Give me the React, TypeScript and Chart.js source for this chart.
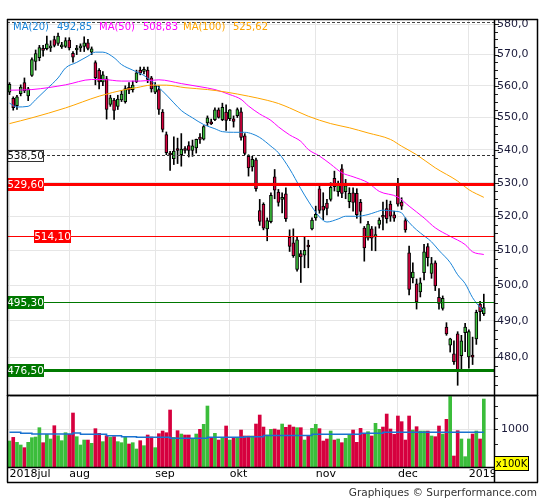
import React, { useEffect, useRef } from 'react';
import { Chart, registerables } from 'chart.js';

Chart.register(...registerables);
Chart.defaults.font.family = "'DejaVu Sans', sans-serif";

// ---------- data (trading days 10 Jul 2018 .. 8 Jan 2019) ----------
const monthIdx = [0, 16, 39, 59, 82, 104, 123];
const monthLabels = ['2018jul', 'aug', 'sep', 'okt', 'nov', 'dec', '2019jan'];

const opens = [
  558.0, 556.0, 553.7, 557.5, 561.0, 556.8, 563.3, 567.8, 569.0, 571.8,
  571.9, 572.2, 574.9, 573.6, 572.5, 572.7, 574.7, 570.4, 571.5, 572.2,
  572.7, 573.8, 570.8, 567.4, 564.9, 561.2, 562.2, 554.1, 555.5, 553.5,
  555.5, 555.0, 559.5, 558.8, 561.3, 565.0, 564.6, 565.0, 562.5, 558.0,
  558.8, 551.7, 544.7, 539.0, 537.3, 540.3, 538.5, 540.2, 541.3, 539.8,
  540.6, 543.9, 543.3, 548.3, 548.6, 549.3, 552.4, 549.3, 551.7, 549.6,
  549.6, 550.6, 551.8, 544.3, 538.0, 534.8, 536.9, 521.7, 523.5, 516.3,
  518.4, 531.8, 527.2, 525.0, 526.7, 513.8, 512.2, 504.5, 509.1, 508.6,
  511.4, 516.3, 519.5, 528.2, 523.0, 523.9, 525.0, 531.3, 527.3, 534.2,
  527.3, 524.3, 527.0, 526.8, 524.1, 516.5, 513.6, 516.3, 514.0, 517.6,
  520.0, 522.3, 523.6, 520.4, 529.3, 524.2, 518.7, 509.3, 502.1, 500.4,
  498.1, 503.6, 511.1, 503.4, 506.4, 496.6, 493.5, 488.3, 483.3, 480.9,
  486.4, 480.4, 486.7, 480.1, 480.6, 485.0, 494.7, 492.0,
];
const highs = [
  561.0, 556.5, 557.0, 560.3, 562.5, 559.5, 569.0, 571.5, 573.0, 573.0,
  576.0, 574.5, 576.0, 577.0, 574.0, 575.5, 575.5, 571.0, 573.0, 573.5,
  575.8, 575.0, 572.5, 568.0, 565.5, 564.5, 563.0, 557.0, 556.0, 557.0,
  558.5, 560.0, 561.0, 561.5, 565.0, 566.0, 566.0, 566.0, 563.0, 561.0,
  560.0, 552.5, 545.5, 539.5, 544.0, 543.6, 545.0, 541.0, 542.5, 543.0,
  543.3, 545.0, 547.5, 550.5, 549.5, 553.0, 553.0, 554.5, 554.0, 552.5,
  550.5, 553.0, 553.0, 545.0, 538.5, 538.0, 537.5, 525.0, 524.0, 519.5,
  527.0, 534.0, 528.0, 527.0, 528.5, 516.0, 516.3, 514.0, 510.0, 514.0,
  513.0, 519.5, 523.0, 529.8, 527.0, 525.0, 530.0, 533.5, 530.5, 535.5,
  531.0, 528.5, 528.5, 528.2, 525.0, 517.0, 518.5, 517.0, 516.9, 519.5,
  524.2, 524.8, 524.5, 521.5, 531.3, 525.5, 519.5, 511.3, 506.4, 501.8,
  502.1, 511.8, 512.0, 508.0, 507.0, 499.1, 497.0, 489.5, 485.2, 484.5,
  487.0, 486.0, 489.3, 487.5, 485.5, 493.0, 495.5, 497.5,
];
const lows = [
  557.2, 552.3, 552.5, 556.8, 557.8, 555.3, 563.0, 565.0, 568.0, 569.5,
  571.5, 571.0, 572.5, 573.0, 572.0, 572.3, 571.5, 567.6, 570.0, 571.0,
  571.0, 571.5, 570.0, 560.3, 559.0, 560.0, 549.5, 553.5, 549.4, 552.5,
  555.0, 554.5, 557.5, 558.0, 561.0, 563.5, 563.8, 561.0, 558.0, 557.5,
  551.0, 545.5, 538.5, 533.7, 535.5, 535.8, 535.0, 539.0, 537.8, 538.0,
  539.0, 542.0, 543.0, 547.5, 547.8, 549.0, 549.8, 549.0, 546.0, 549.0,
  547.0, 550.0, 543.0, 538.5, 532.0, 533.5, 527.5, 517.3, 516.0, 512.8,
  518.0, 525.2, 523.0, 521.0, 518.5, 509.7, 508.0, 504.0, 500.8, 505.0,
  505.0, 516.0, 518.8, 520.9, 519.0, 520.4, 524.5, 527.5, 526.0, 525.5,
  525.2, 522.5, 521.5, 519.4, 518.0, 506.9, 513.0, 510.0, 509.9, 516.5,
  516.0, 518.0, 518.5, 518.5, 523.0, 522.0, 515.3, 497.3, 500.7, 493.3,
  496.7, 501.5, 505.5, 502.0, 498.5, 493.3, 493.0, 486.0, 481.4, 478.0,
  472.4, 476.5, 481.5, 477.0, 478.0, 483.5, 490.0, 491.5,
];
const closes = [
  560.5, 553.1, 556.5, 559.6, 558.4, 559.0, 568.4, 570.3, 572.3, 571.4,
  573.5, 572.6, 573.0, 576.0, 573.0, 574.6, 572.2, 569.2, 571.9, 572.6,
  573.8, 572.0, 571.9, 562.6, 561.2, 563.5, 552.5, 556.2, 552.2, 555.8,
  557.4, 559.1, 558.6, 560.2, 564.1, 564.0, 565.0, 562.0, 559.0, 560.0,
  552.5, 546.3, 539.1, 538.4, 539.6, 539.8, 540.2, 539.8, 539.8, 541.2,
  543.2, 543.2, 547.2, 549.9, 548.0, 552.4, 550.0, 553.2, 549.1, 552.4,
  548.8, 552.5, 543.8, 538.9, 534.5, 537.1, 528.2, 518.5, 516.5, 518.7,
  526.2, 527.8, 524.1, 525.5, 519.3, 511.2, 508.5, 513.1, 508.1, 510.0,
  511.0, 518.9, 520.6, 521.7, 521.8, 522.3, 528.6, 528.8, 529.3, 526.8,
  529.1, 526.8, 524.1, 520.5, 521.4, 510.7, 517.7, 513.6, 514.4, 518.9,
  519.7, 519.3, 520.0, 519.4, 523.6, 523.0, 516.0, 498.8, 503.8, 495.3,
  500.7, 509.6, 507.9, 506.2, 499.8, 494.9, 496.3, 486.4, 485.0, 478.8,
  476.2, 484.5, 488.3, 487.0, 480.0, 492.4, 492.6, 493.7,
];

// volume in units of 100K
const volumes = [
  684, 780, 649, 579, 509, 649, 772, 789, 1035, 640,
  859, 737, 1087, 824, 693, 903, 859, 1421, 798, 579,
  710, 710, 623, 1009, 886, 667, 824, 780, 798, 667,
  640, 798, 605, 640, 474, 693, 561, 842, 789, 509,
  877, 947, 903, 1500, 780, 956, 868, 842, 842, 754,
  868, 991, 1123, 1605, 772, 886, 710, 780, 1079, 710,
  772, 772, 973, 816, 816, 816, 1131, 1368, 1052, 842,
  991, 1000, 973, 1131, 1044, 1105, 1052, 1035, 1035, 710,
  816, 1017, 1123, 1009, 684, 737, 947, 710, 737, 640,
  754, 859, 973, 649, 1017, 886, 930, 816, 1149, 991,
  1052, 1394, 1000, 859, 1342, 1193, 710, 1342, 973, 1061,
  947, 947, 947, 816, 798, 1079, 868, 1254, 1877, 289,
  956, 737, 272, 737, 868, 947, 737, 1789,
];
const volAvg = [
  912, 912, 912, 886, 886, 886, 868, 868, 868, 868,
  868, 868, 868, 868, 868, 868, 868, 895, 895, 859,
  859, 859, 859, 859, 859, 859, 824, 824, 824, 824,
  798, 798, 798, 798, 781, 781, 781, 781, 781, 781,
  781, 781, 781, 754, 754, 754, 754, 754, 754, 754,
  754, 754, 754, 781, 781, 781, 781, 781, 781, 781,
  781, 781, 781, 798, 798, 798, 798, 798, 828, 828,
  828, 828, 828, 828, 828, 828, 828, 828, 828, 828,
  828, 859, 859, 859, 859, 859, 859, 859, 859, 859,
  859, 859, 859, 859, 886, 886, 886, 886, 886, 886,
  912, 912, 912, 912, 912, 912, 912, 912, 912, 912,
  912, 912, 912, 912, 912, 912, 912, 912, 912, 912,
  912, 912, 912, 912, 912, 912, 912, 912,
];

// moving averages read at sample days
const ma20Idx = [0, 2, 5, 7, 10, 13, 15, 18, 21, 23, 25, 28, 30, 33, 36, 38, 41, 44, 46, 49, 52, 55, 57, 60, 63, 65, 67, 70, 72, 75, 78, 80, 83, 85, 88, 90, 93, 96, 98, 100, 103, 105, 106, 108, 110, 113, 115, 118, 120, 122, 124, 126, 127];
const ma20Val = [554.5, 553.3, 553.5, 555.6, 559.0, 562.5, 565.7, 567.5, 569.5, 570.8, 570.8, 569.0, 566.8, 565.0, 563.3, 561.5, 558.3, 554.6, 552.2, 549.9, 547.8, 546.5, 545.6, 545.4, 545.4, 544.9, 543.8, 541.1, 539.1, 534.2, 528.2, 524.5, 519.8, 518.3, 519.2, 520.0, 520.0, 520.5, 521.2, 521.8, 521.5, 521.0, 519.5, 517.0, 515.1, 512.5, 510.0, 506.5, 503.0, 500.5, 496.5, 493.8, 492.85];
const ma50Idx = [0, 6, 15, 22, 25, 30, 35, 40, 46, 51, 55, 59, 62, 64, 67, 70, 72, 75, 78, 80, 83, 86, 89, 92, 96, 99, 104, 107, 111, 114, 118, 122, 124, 127];
const ma50Val = [558.6, 558.8, 560.3, 562.0, 562.0, 561.5, 561.5, 561.9, 560.7, 559.7, 558.8, 557.2, 555.7, 553.6, 551.1, 549.1, 547.1, 544.6, 542.6, 540.1, 538.1, 535.6, 533.0, 531.8, 530.0, 527.4, 525.7, 523.0, 519.5, 516.6, 514.1, 511.7, 509.6, 508.83];
const ma100Idx = [0, 6, 15, 24, 31, 34, 38, 42, 47, 53, 58, 64, 69, 72, 75, 80, 86, 91, 96, 102, 105, 109, 114, 120, 123, 127];
const ma100Val = [548.1, 549.9, 553.0, 556.7, 558.8, 559.4, 560.2, 560.2, 559.4, 558.8, 558.0, 556.7, 555.4, 554.4, 553.0, 550.4, 548.1, 546.8, 545.2, 543.2, 541.1, 538.5, 534.5, 530.5, 527.9, 525.62];

const priceTicks = [480, 490, 500, 510, 520, 530, 540, 550, 560, 570, 580];
const volTicks = [1000];
const volMinorTicks = [300, 600, 1300, 1600];

// horizontal support / resistance levels
const levelValues = [580.8, 538.5, 529.6, 514.1, 495.3, 476.5];

// ---------- styles ----------
const GREEN = '#3bbd3b';
const RED = '#d6003e';
const BLUE = '#1a84d8';
const MAGENTA = '#ff00ff';
const ORANGE = '#ffa500';
const GRID = '#e6e6e6';
const AXIS_TXT = '#1a1a3a';
const X_MIN = -0.67;
const X_MAX = 129.73;

const levelStyles = [
  { color: '#444', width: 1, dash: [3, 2], label: false, bg: '', fg: '', lx: 0, border: false },
  { color: '#333', width: 1, dash: [3, 2], label: true, bg: '#ffffff', fg: '#111', lx: 7, border: true },
  { color: '#ff0000', width: 3, dash: [], label: true, bg: '#ff0000', fg: '#ffffff', lx: 7, border: false },
  { color: '#ff0000', width: 1, dash: [], label: true, bg: '#ff0000', fg: '#ffffff', lx: 34, border: false },
  { color: '#007800', width: 1, dash: [], label: true, bg: '#007800', fg: '#ffffff', lx: 7, border: false },
  { color: '#007a00', width: 3, dash: [], label: true, bg: '#007800', fg: '#ffffff', lx: 7, border: false },
];

const fmt = (v: number, d: number) => v.toFixed(d).replace('.', ',');
const isUp = (i: number) => closes[i] >= opens[i];

const pricePanelPlugin = {
  id: 'pricePanel',
  afterDatasetsDraw(chart: any) {
    const { ctx, chartArea: a, scales } = chart;
    const ys = scales.y;
    ctx.save();
    ctx.beginPath();
    ctx.rect(a.left, a.top, a.right - a.left, a.bottom - a.top);
    ctx.clip();
    levelValues.forEach((v, k) => {
      const st = levelStyles[k];
      const py = Math.round(ys.getPixelForValue(v)) + (st.width % 2 ? 0.5 : 0);
      ctx.strokeStyle = st.color;
      ctx.lineWidth = st.width;
      ctx.setLineDash(st.dash);
      ctx.beginPath();
      ctx.moveTo(a.left, py);
      ctx.lineTo(a.right, py);
      ctx.stroke();
    });
    ctx.setLineDash([]);
    ctx.font = "10.5px 'DejaVu Sans'";
    ctx.textAlign = 'center';
    ctx.textBaseline = 'middle';
    levelValues.forEach((v, k) => {
      const st = levelStyles[k];
      if (!st.label) return;
      const py = Math.round(ys.getPixelForValue(v));
      const w = 37;
      const h = st.border ? 11 : 13;
      const bx = st.lx;
      const by = py - h / 2 + 0.5;
      ctx.fillStyle = st.bg;
      ctx.fillRect(bx, by, w, h);
      if (st.border) {
        ctx.strokeStyle = '#333';
        ctx.lineWidth = 1;
        ctx.strokeRect(bx + 0.5, Math.round(by) + 0.5, w - 1, h);
      }
      ctx.fillStyle = st.fg;
      ctx.fillText(fmt(v, 2), bx + w / 2, py + 1);
    });
    ctx.restore();
  },
  afterDraw(chart: any) {
    const { ctx, chartArea: a, scales } = chart;
    const ys = scales.y;
    ctx.save();
    // minor ticks on price axis
    ctx.strokeStyle = '#222';
    ctx.lineWidth = 1;
    for (let v = 470; v <= 581; v += 2.5) {
      const py = Math.round(ys.getPixelForValue(v)) + 0.5;
      if (py < a.top + 1 || py > a.bottom - 1) continue;
      const len = v % 10 === 0 ? 5 : 4;
      ctx.beginPath();
      ctx.moveTo(a.right, py);
      ctx.lineTo(a.right + len, py);
      ctx.stroke();
    }
    // frame
    ctx.strokeStyle = '#000';
    ctx.lineWidth = 1.5;
    ctx.beginPath();
    ctx.moveTo(7, 19.5); ctx.lineTo(538, 19.5);
    ctx.moveTo(7.5, 19); ctx.lineTo(7.5, a.bottom + 1);
    ctx.moveTo(537.5, 19); ctx.lineTo(537.5, a.bottom + 1);
    ctx.moveTo(a.right + 0.5, 19); ctx.lineTo(a.right + 0.5, a.bottom + 1);
    ctx.moveTo(7, a.bottom + 0.5); ctx.lineTo(538, a.bottom + 0.5);
    ctx.stroke();
    // legend
    ctx.font = "10px 'DejaVu Sans'";
    ctx.textAlign = 'left';
    ctx.textBaseline = 'middle';
    const items = [
      { t: 'MA(20)', x: 13, c: BLUE },
      { t: fmt(ma20Val[ma20Val.length - 1], 2), x: 57, c: BLUE },
      { t: 'MA(50)', x: 99, c: MAGENTA },
      { t: fmt(ma50Val[ma50Val.length - 1], 2), x: 143, c: MAGENTA },
      { t: 'MA(100)', x: 183, c: ORANGE },
      { t: fmt(ma100Val[ma100Val.length - 1], 2), x: 233, c: ORANGE },
    ];
    items.forEach((it) => {
      ctx.fillStyle = it.c;
      ctx.fillText(it.t, it.x, 27);
    });
    ctx.restore();
  },
};

const volumePanelPlugin = {
  id: 'volumePanel',
  afterDraw(chart: any) {
    const { ctx, chartArea: a, scales } = chart;
    const ys = scales.y;
    const bottomLine = a.bottom + 15;
    ctx.save();
    // hide the part of the last date label running past the panel
    ctx.fillStyle = '#fff';
    ctx.fillRect(a.right + 1, a.bottom + 1, 538 - a.right - 2, bottomLine - a.bottom - 1);
    // ticks on volume axis
    ctx.strokeStyle = '#222';
    ctx.lineWidth = 1;
    [...volMinorTicks, ...volTicks].forEach((v) => {
      const py = Math.round(ys.getPixelForValue(v)) + 0.5;
      ctx.beginPath();
      ctx.moveTo(a.right, py);
      ctx.lineTo(a.right + 4, py);
      ctx.stroke();
    });
    // frame
    ctx.strokeStyle = '#000';
    ctx.lineWidth = 1.5;
    ctx.beginPath();
    ctx.moveTo(7.5, a.top); ctx.lineTo(7.5, bottomLine + 0.5);
    ctx.moveTo(537.5, a.top); ctx.lineTo(537.5, bottomLine + 0.5);
    ctx.moveTo(a.right + 0.5, a.top); ctx.lineTo(a.right + 0.5, bottomLine + 0.5);
    ctx.moveTo(7, a.top + 0.5); ctx.lineTo(538, a.top + 0.5);
    ctx.moveTo(7, a.bottom + 0.5); ctx.lineTo(a.right, a.bottom + 0.5);
    ctx.moveTo(7, bottomLine + 0.5); ctx.lineTo(538, bottomLine + 0.5);
    ctx.stroke();
    // unit box
    const boxTop = a.bottom - 11;
    ctx.fillStyle = '#ffff00';
    ctx.fillRect(a.right + 0.5, boxTop, 34, 14);
    ctx.strokeStyle = '#000';
    ctx.lineWidth = 1;
    ctx.strokeRect(a.right + 0.5, boxTop + 0.5, 34, 14);
    ctx.fillStyle = '#000';
    ctx.font = "10px 'DejaVu Sans'";
    ctx.textAlign = 'center';
    ctx.textBaseline = 'middle';
    ctx.fillText('x100K', a.right + 17.5, boxTop + 8);
    // footer
    ctx.fillStyle = '#333';
    ctx.font = "10.5px 'DejaVu Sans'";
    ctx.textAlign = 'right';
    ctx.textBaseline = 'alphabetic';
    ctx.fillText('Graphiques \u00A9 Surperformance.com', 537, bottomLine + 14);
    ctx.restore();
  },
};

const xScaleBase = (showLabels: boolean) => ({
  type: 'linear' as const,
  min: X_MIN,
  max: X_MAX,
  offset: false,
  grid: { color: GRID, drawTicks: false, offset: false, lineWidth: 1 },
  border: { display: false },
  ticks: {
    display: showLabels,
    autoSkip: false,
    maxRotation: 0,
    align: 'start' as const,
    padding: 1,
    color: '#000',
    font: { size: 11 },
    callback: (v: any) => {
      const k = monthIdx.indexOf(Number(v));
      return k >= 0 ? monthLabels[k] : '';
    },
  },
  afterBuildTicks: (s: any) => {
    s.ticks = monthIdx.map((v) => ({ value: v }));
  },
  afterFit: (s: any) => {
    s.height = showLabels ? 15 : 0;
  },
});

export default function App() {
  const priceRef = useRef<HTMLCanvasElement>(null);
  const volRef = useRef<HTMLCanvasElement>(null);

  useEffect(() => {
    const idx = closes.map((_, i) => i);
    const wickData = idx.map((i) => ({ x: i, y: [lows[i], highs[i]] }));
    const bodyData = idx.map((i) => ({ x: i, y: [Math.min(opens[i], closes[i]), Math.max(opens[i], closes[i])] }));
    const bodyColors = idx.map((i) => (isUp(i) ? GREEN : RED));
    const maLine = (ix: number[], vals: number[], color: string) => ({
      type: 'line' as const,
      data: ix.map((x, k) => ({ x, y: vals[k] })),
      borderColor: color,
      borderWidth: 1,
      pointRadius: 0,
      fill: false,
      cubicInterpolationMode: 'monotone' as const,
      order: 0,
    });

    const priceChart = new Chart(priceRef.current as HTMLCanvasElement, {
      type: 'bar',
      data: {
        datasets: [
          {
            type: 'bar',
            data: wickData as any,
            backgroundColor: '#000',
            barThickness: 1,
            grouped: false,
            order: 3,
          },
          {
            type: 'bar',
            data: bodyData as any,
            backgroundColor: bodyColors,
            borderColor: '#000',
            borderWidth: 1,
            borderSkipped: false,
            barThickness: 3,
            minBarLength: 2,
            grouped: false,
            order: 2,
          },
          maLine(ma100Idx, ma100Val, ORANGE) as any,
          maLine(ma50Idx, ma50Val, MAGENTA) as any,
          maLine(ma20Idx, ma20Val, BLUE) as any,
        ],
      },
      options: {
        animation: false,
        responsive: false,
        events: [],
        layout: { padding: { left: 7, top: 19, right: 7, bottom: 15 } },
        plugins: { legend: { display: false }, tooltip: { enabled: false } },
        scales: {
          x: xScaleBase(false) as any,
          y: {
            type: 'logarithmic',
            position: 'right',
            min: 469.8,
            max: 581.65,
            grid: { color: GRID, drawTicks: false, lineWidth: 1 },
            border: { display: false },
            ticks: {
              color: AXIS_TXT,
              font: { size: 11 },
              padding: 3,
              autoSkip: false,
              callback: (v: any) => fmt(Number(v), 1),
            },
            afterBuildTicks: (s: any) => {
              s.ticks = priceTicks.map((v) => ({ value: v }));
            },
            afterFit: (s: any) => {
              s.width = 44;
            },
          } as any,
        },
      },
      plugins: [pricePanelPlugin],
    });

    const volChart = new Chart(volRef.current as HTMLCanvasElement, {
      type: 'bar',
      data: {
        datasets: [
          {
            type: 'line',
            data: idx.map((i) => ({ x: i, y: volAvg[i] })) as any,
            borderColor: '#1a72d0',
            borderWidth: 1.5,
            pointRadius: 0,
            stepped: true,
            fill: false,
            order: 0,
          } as any,
          {
            type: 'bar',
            data: idx.map((i) => ({ x: i, y: volumes[i] })) as any,
            backgroundColor: bodyColors,
            barThickness: 3,
            grouped: false,
            order: 1,
          },
        ],
      },
      options: {
        animation: false,
        responsive: false,
        events: [],
        layout: { padding: { left: 7, top: 20, right: 7, bottom: 18 } },
        plugins: { legend: { display: false }, tooltip: { enabled: false } },
        scales: {
          x: xScaleBase(true) as any,
          y: {
            type: 'linear',
            position: 'right',
            min: 0,
            max: 1895,
            grid: { color: GRID, drawTicks: false, lineWidth: 1 },
            border: { display: false },
            ticks: { color: AXIS_TXT, font: { size: 11 }, padding: 7, callback: (v: any) => String(v) },
            afterBuildTicks: (s: any) => {
              s.ticks = volTicks.map((v) => ({ value: v }));
            },
            afterFit: (s: any) => {
              s.width = 44;
            },
          } as any,
        },
      },
      plugins: [volumePanelPlugin],
    });

    return () => {
      priceChart.destroy();
      volChart.destroy();
    };
  }, []);

  return (
    <div style={{ position: 'fixed', left: 0, top: 0, width: 545, height: 500, background: '#fff', overflow: 'hidden' }}>
      <canvas ref={priceRef} width={545} height={410} style={{ position: 'absolute', left: 0, top: 0, width: 545, height: 410 }} />
      <canvas ref={volRef} width={545} height={125} style={{ position: 'absolute', left: 0, top: 375, width: 545, height: 125 }} />
    </div>
  );
}
